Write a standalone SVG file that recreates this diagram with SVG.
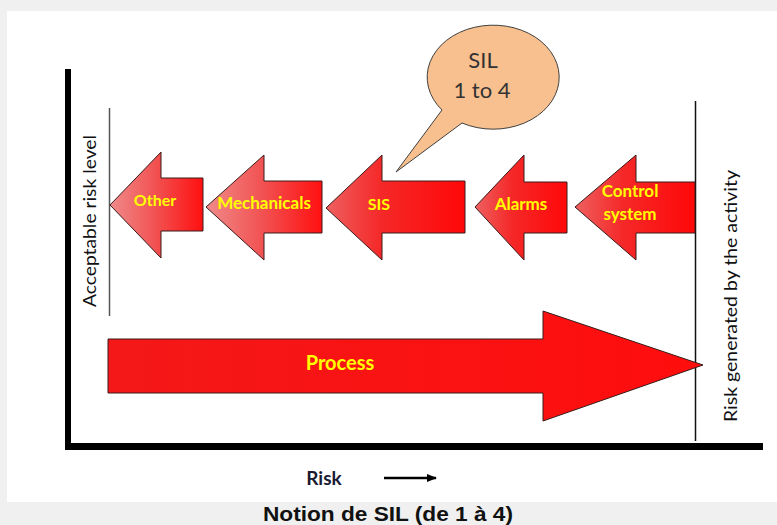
<svg xmlns="http://www.w3.org/2000/svg" width="777" height="525" viewBox="0 0 777 525">
<defs>
<style>
.lbl{font-family:Lato,"Liberation Sans",sans-serif;font-weight:bold;fill:#ffff00;text-anchor:middle}
.ax{font-family:Lato,"Liberation Sans",sans-serif;fill:#111;text-anchor:middle}
.arr{stroke:#3a1a1a;stroke-width:1;stroke-linejoin:miter}
</style>
<linearGradient id="gPink" x1="0" y1="0" x2="1" y2="0">
<stop offset="0" stop-color="#f08a8a"/>
<stop offset="0.5" stop-color="#f25050"/>
<stop offset="1" stop-color="#ff1010"/>
</linearGradient>
<linearGradient id="gRed" x1="0" y1="0" x2="1" y2="0">
<stop offset="0" stop-color="#ee6060"/>
<stop offset="0.4" stop-color="#f52828"/>
<stop offset="1" stop-color="#ff0808"/>
</linearGradient>
<linearGradient id="gProc" x1="0" y1="0" x2="1" y2="0">
<stop offset="0" stop-color="#f41818"/>
<stop offset="1" stop-color="#ff0d0d"/>
</linearGradient>
<marker id="ah" markerWidth="10" markerHeight="8" refX="9" refY="4" orient="auto" markerUnits="userSpaceOnUse">
<path d="M0,0 L10,4 L0,8 Z" fill="#000"/>
</marker>
</defs>
<rect x="0" y="0" width="777" height="525" fill="#f0f0f0"/>
<rect x="7" y="11" width="770" height="491" fill="#ffffff"/>

<g id="axes">
<rect x="65" y="69" width="6" height="381" fill="#000"/>
<rect x="65" y="443" width="698" height="7" fill="#000"/>
<line x1="109.5" y1="108" x2="109.5" y2="316" stroke="#555" stroke-width="1.5"/>
<line x1="695.5" y1="101" x2="695.5" y2="441" stroke="#111" stroke-width="1.5"/>
<text class="ax" font-size="18" transform="translate(96,221) rotate(-90)" textLength="172" lengthAdjust="spacingAndGlyphs">Acceptable risk level</text>
<text class="ax" font-size="18" transform="translate(737,296) rotate(-90)" textLength="252" lengthAdjust="spacingAndGlyphs">Risk generated by the activity</text>
</g>

<g id="node-process">
<path class="arr" d="M108,339 L543,339 L543,311 L703,365 L543,421 L543,393 L108,393 Z" fill="url(#gProc)"/>
<text class="lbl" font-size="20" x="340" y="370">Process</text>
</g>

<g id="node-other">
<path class="arr" d="M110,205 L161,152 L161,178 L203,178 L203,231 L161,231 L161,258 Z" fill="url(#gPink)"/>
<text class="lbl" font-size="16" x="155" y="206">Other</text>
</g>

<g id="node-mechanicals">
<path class="arr" d="M206,207 L264,155 L264,181 L322,181 L322,233 L264,233 L264,260 Z" fill="url(#gPink)"/>
<text class="lbl" font-size="17" x="264" y="209">Mechanicals</text>
</g>

<g id="node-sis">
<path class="arr" d="M326,208 L382,155 L382,181 L465,181 L465,233 L382,233 L382,260 Z" fill="url(#gRed)"/>
<text class="lbl" font-size="16" x="379" y="210">SIS</text>
</g>

<g id="node-alarms">
<path class="arr" d="M475,207 L524,155 L524,182 L567,182 L567,233 L524,233 L524,260 Z" fill="url(#gRed)"/>
<text class="lbl" font-size="17" x="521" y="210">Alarms</text>
</g>

<g id="node-control">
<path class="arr" d="M575,207 L636,155 L636,182 L695,182 L695,233 L636,233 L636,260 Z" fill="url(#gRed)"/>
<text class="lbl" font-size="17" x="630" y="197">Control</text>
<text class="lbl" font-size="17" x="630" y="220">system</text>
</g>

<g id="node-callout">
<path d="M442,110 A66,52 0 1 1 462,123 L396,172 Z" fill="#f9c08f" stroke="#404040" stroke-width="1"/>
<text x="483" y="68" font-family="Lato,'Liberation Sans',sans-serif" font-size="22" fill="#333" text-anchor="middle">SIL</text>
<text x="482" y="98" font-family="Lato,'Liberation Sans',sans-serif" font-size="22" fill="#333" text-anchor="middle">1 to 4</text>
</g>

<g id="connectors">
<line x1="384" y1="478" x2="436" y2="478" stroke="#000" stroke-width="2.5" marker-end="url(#ah)"/>
</g>

<text x="324" y="485" font-family="Lato,'Liberation Sans',sans-serif" font-weight="bold" font-size="19" fill="#1a1a33" text-anchor="middle">Risk</text>
<text x="388" y="521" font-family="'Liberation Sans',Arial,sans-serif" font-weight="bold" font-size="20" fill="#111" text-anchor="middle" textLength="250" lengthAdjust="spacingAndGlyphs">Notion de SIL (de 1 à 4)</text>
</svg>
